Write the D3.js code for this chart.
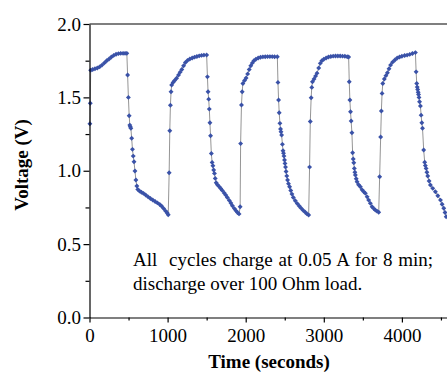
<!DOCTYPE html>
<html>
<head>
<meta charset="utf-8">
<script src="https://cdn.jsdelivr.net/npm/d3@7"></script>
<style>
  body { margin: 0; background: #fff; }
  text { font-family: "Liberation Serif", "Times New Roman", serif; }
</style>
</head>
<body>
<script>
// [time (s), voltage (V)], one array per charge/discharge cycle
let cycle1 = [[5,1.32],[10,1.46],[15,1.685],[40,1.69],[70,1.695],[100,1.70],[130,1.708],[160,1.72],[190,1.735],[220,1.75],[250,1.762],[280,1.775],[310,1.786],[340,1.794],[370,1.798],[400,1.80],[430,1.80],[455,1.80],[478,1.80],
  [488,1.652],[498,1.50],[508,1.375],[516,1.311],[522,1.30],[530,1.289],[540,1.221],[550,1.146],[560,1.10],[570,1.061],[582,0.998],[594,0.937],[606,0.896],[618,0.873],[640,0.862],[665,0.853],[690,0.846],[720,0.835],[750,0.822],[780,0.811],[810,0.801],[840,0.79],[870,0.781],[900,0.77],[925,0.758],[950,0.742],[975,0.725],[995,0.712],[1008,0.70]]
let cycle2 = [[1020,0.986],[1028,1.273],[1036,1.446],[1044,1.538],[1052,1.584],[1070,1.602],[1090,1.615],[1115,1.63],[1140,1.652],[1160,1.672],[1182,1.69],[1205,1.715],[1228,1.738],[1255,1.752],[1285,1.762],[1315,1.768],[1345,1.774],[1375,1.779],[1405,1.783],[1435,1.786],[1465,1.788],[1500,1.789],
  [1510,1.64],[1518,1.538],[1526,1.488],[1534,1.42],[1542,1.327],[1550,1.238],[1560,1.118],[1570,1.057],[1580,1.034],[1590,1.005],[1600,0.982],[1610,0.948],[1622,0.918],[1638,0.905],[1660,0.892],[1680,0.879],[1700,0.866],[1725,0.848],[1745,0.834],[1765,0.818],[1790,0.798],[1810,0.78],[1830,0.762],[1855,0.742],[1875,0.728],[1895,0.716],[1915,0.706]]
let cycle3 = [[1929,0.755],[1935,1.185],[1946,1.448],[1955,1.538],[1964,1.595],[1985,1.615],[2005,1.632],[2025,1.66],[2045,1.69],[2065,1.715],[2085,1.735],[2105,1.75],[2130,1.76],[2160,1.768],[2190,1.773],[2220,1.776],[2250,1.777],[2280,1.778],[2310,1.778],[2340,1.778],[2370,1.777],[2405,1.777],
  [2413,1.602],[2421,1.482],[2429,1.395],[2438,1.323],[2446,1.285],[2452,1.265],[2460,1.243],[2470,1.18],[2478,1.136],[2484,1.12],[2490,1.10],[2497,1.073],[2503,1.05],[2510,1.025],[2517,0.995],[2526,0.965],[2536,0.937],[2548,0.912],[2562,0.891],[2577,0.865],[2592,0.841],[2610,0.818],[2635,0.796],[2660,0.776],[2685,0.76],[2710,0.745],[2735,0.73],[2763,0.717],[2785,0.706],[2806,0.698]]
let cycle4 = [[2818,1.025],[2827,1.336],[2838,1.497],[2846,1.568],[2855,1.606],[2875,1.625],[2895,1.645],[2913,1.665],[2935,1.70],[2955,1.732],[2975,1.75],[3000,1.76],[3030,1.768],[3060,1.775],[3090,1.779],[3120,1.781],[3150,1.782],[3180,1.782],[3210,1.782],[3240,1.781],[3270,1.78],[3300,1.777],[3318,1.775],
  [3326,1.606],[3334,1.482],[3342,1.402],[3350,1.339],[3360,1.259],[3369,1.123],[3377,1.08],[3384,1.055],[3391,1.016],[3398,0.99],[3404,0.971],[3415,0.945],[3426,0.925],[3445,0.905],[3468,0.891],[3490,0.87],[3512,0.857],[3532,0.846],[3555,0.822],[3574,0.80],[3596,0.778],[3618,0.755],[3640,0.742],[3660,0.732],[3680,0.725],[3703,0.717]]
let cycle5 = [[3715,0.959],[3728,1.23],[3737,1.407],[3746,1.527],[3755,1.595],[3775,1.625],[3795,1.648],[3815,1.668],[3835,1.695],[3855,1.72],[3880,1.74],[3910,1.755],[3940,1.768],[3970,1.775],[4000,1.78],[4035,1.785],[4067,1.788],[4100,1.793],[4135,1.799],[4173,1.805],
  [4182,1.674],[4190,1.595],[4196,1.57],[4202,1.554],[4208,1.535],[4213,1.52],[4219,1.50],[4226,1.47],[4237,1.441],[4246,1.379],[4255,1.327],[4264,1.29],[4279,1.141],[4292,1.058],[4300,1.035],[4310,1.016],[4320,0.99],[4331,0.964],[4348,0.93],[4365,0.903],[4395,0.88],[4429,0.857],[4460,0.83],[4494,0.80],[4515,0.772],[4536,0.744],[4552,0.715],[4567,0.687]]

let xTicks = [0, 1000, 2000, 3000, 4000]
let xMinor = [500, 1500, 2500, 3500, 4500]
let yTicks = [0, 0.5, 1.0, 1.5, 2.0]
let yMinor = [0.25, 0.75, 1.25, 1.75]
let note = ['All\u00a0 cycles charge at 0.05 A for 8 min;', 'discharge over 100 Ohm load.']

function chart() {
  let w = 447
    , h = 379
    , left = 89.5
    , top = 24
    , bottom = 317.5

  let svg = d3.select('body')
    .append('svg')
    .attr('width', w)
    .attr('height', h)

  let x = d3.scaleLinear().domain([0, 4600]).range([left, left + 4600 * 0.0781])
  let y = d3.scaleLinear().domain([0, 2]).range([bottom, top])

  let data = cycle1.concat(cycle2, cycle3, cycle4, cycle5)

  // thin connecting line
  svg.append('path')
    .datum(data)
    .attr('fill', 'none')
    .attr('stroke', '#7a7a7a')
    .attr('stroke-width', 0.8)
    .attr('d', d3.line().x(d => x(d[0])).y(d => y(d[1])))

  // markers
  let sym = d3.symbol().type(d3.symbolSquare).size(12)
  svg.append('g')
    .selectAll('path')
    .data(data)
    .enter()
    .append('path')
    .attr('d', sym)
    .attr('fill', '#3a52a8')
    .attr('transform', d => 'translate(' + x(d[0]) + ',' + y(d[1]) + ') rotate(45)')

  // bottom axis
  svg.append('g')
    .attr('transform', 'translate(0,' + bottom + ')')
    .call(d3.axisBottom(x).tickValues(xTicks).tickSize(5).tickSizeOuter(0).tickPadding(6).tickFormat(d3.format('d')))
  svg.append('g')
    .attr('transform', 'translate(0,' + bottom + ')')
    .call(d3.axisBottom(x).tickValues(xMinor).tickSize(3).tickFormat(''))
    .select('.domain').remove()

  // left axis
  svg.append('g')
    .attr('transform', 'translate(' + left + ',0)')
    .call(d3.axisLeft(y).tickValues(yTicks).tickSize(6).tickSizeOuter(0).tickPadding(2.5).tickFormat(d3.format('.1f')))
  svg.append('g')
    .attr('transform', 'translate(' + left + ',0)')
    .call(d3.axisLeft(y).tickValues(yMinor).tickSize(4).tickFormat(''))
    .select('.domain').remove()

  svg.selectAll('.tick line, .domain')
    .attr('stroke', '#000')
    .attr('stroke-width', 1.2)

  svg.selectAll('.tick text')
    .attr('font-size', 19)
    .attr('font-family', '"Liberation Serif", serif')
    .attr('fill', '#000')

  // top frame line
  svg.append('line')
    .attr('x1', left)
    .attr('x2', w)
    .attr('y1', top)
    .attr('y2', top)
    .attr('stroke', '#000')
    .attr('stroke-width', 1.2)

  // axis titles
  svg.append('text')
    .attr('x', 269)
    .attr('y', 368)
    .attr('text-anchor', 'middle')
    .attr('font-size', 19)
    .attr('font-weight', 'bold')
    .text('Time (seconds)')

  svg.append('text')
    .attr('transform', 'translate(28,165) rotate(-90)')
    .attr('text-anchor', 'middle')
    .attr('font-size', 19)
    .attr('font-weight', 'bold')
    .text('Voltage (V)')

  // note, first line justified to the box width like the original
  let noteText = svg.append('g')
    .selectAll('text')
    .data(note)
    .enter()
    .append('text')
    .attr('x', 133)
    .attr('y', (d, i) => 265.5 + i * 24.5)
    .attr('font-size', 19)
    .text(d => d)

  let first = noteText.node()
  let gaps = note[0].split(' ').length - 1
  let extra = 299 - first.getComputedTextLength()
  if (extra > 0) d3.select(first).attr('word-spacing', extra / gaps)
}

chart()
</script>
</body>
</html>
